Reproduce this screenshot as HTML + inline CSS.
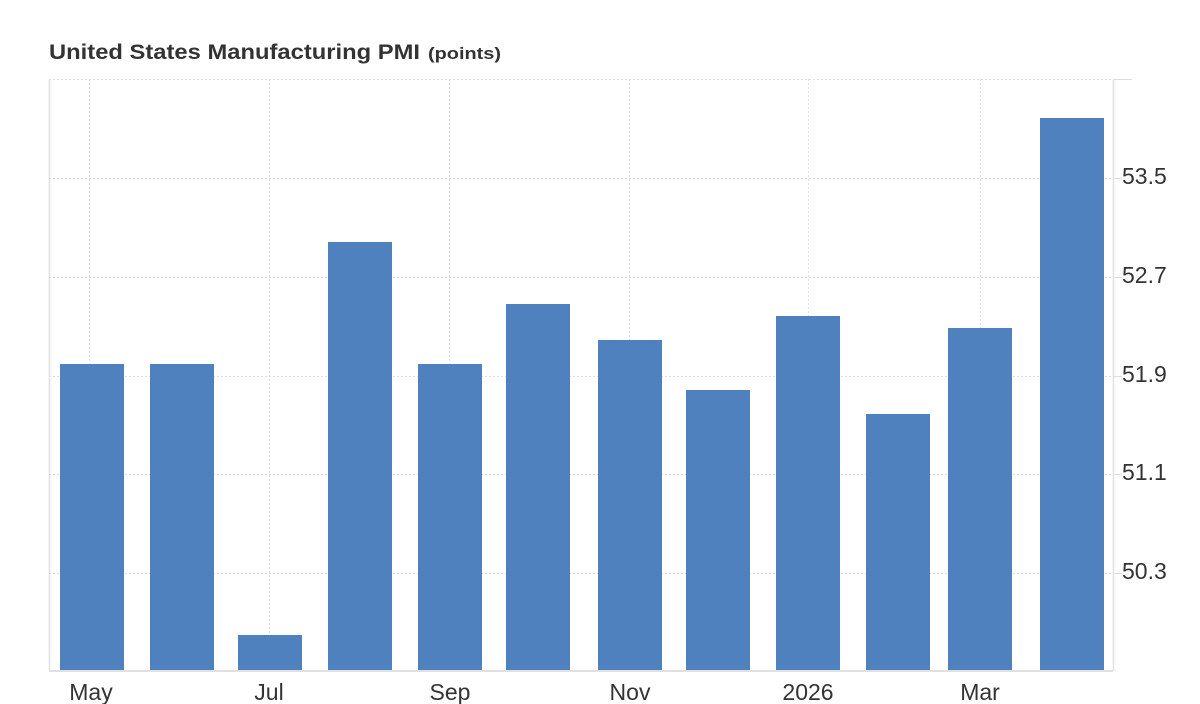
<!DOCTYPE html>
<html><head><style>
body{margin:0;background:#fff;}
svg{display:block;font-family:"Liberation Sans",Arial,sans-serif;}
</style></head><body>
<svg width="1200" height="704" viewBox="0 0 1200 704">
<text x="49" y="59" font-size="21" font-weight="bold" fill="#333" textLength="371" lengthAdjust="spacingAndGlyphs">United States Manufacturing PMI</text>
<text x="428" y="59" font-size="17" font-weight="bold" fill="#333" textLength="73" lengthAdjust="spacingAndGlyphs">(points)</text>
<g stroke="#ddd" stroke-width="1" stroke-dasharray="2,2">
<line x1="49" y1="79.5" x2="1113" y2="79.5"/>
<line x1="49" y1="178.5" x2="1113" y2="178.5"/>
<line x1="49" y1="277.5" x2="1113" y2="277.5"/>
<line x1="49" y1="376.5" x2="1113" y2="376.5"/>
<line x1="49" y1="474.5" x2="1113" y2="474.5"/>
<line x1="49" y1="573.5" x2="1113" y2="573.5"/>
<line x1="89.5" y1="79" x2="89.5" y2="670"/>
<line x1="269.5" y1="79" x2="269.5" y2="670"/>
<line x1="449.5" y1="79" x2="449.5" y2="670"/>
<line x1="629.5" y1="79" x2="629.5" y2="670"/>
<line x1="808.5" y1="79" x2="808.5" y2="670"/>
<line x1="980.5" y1="79" x2="980.5" y2="670"/>
</g>
<g stroke="#ddd" stroke-width="1">
<line x1="1113" y1="79.5" x2="1132" y2="79.5"/>
<line x1="1113" y1="178.5" x2="1122" y2="178.5"/>
<line x1="1113" y1="277.5" x2="1122" y2="277.5"/>
<line x1="1113" y1="376.5" x2="1122" y2="376.5"/>
<line x1="1113" y1="474.5" x2="1122" y2="474.5"/>
<line x1="1113" y1="573.5" x2="1122" y2="573.5"/>
</g>
<line x1="49.5" y1="79" x2="49.5" y2="671" stroke="#e0e0e0" stroke-width="1.5"/>
<line x1="1113.5" y1="79" x2="1113.5" y2="671" stroke="#e0e0e0" stroke-width="1.5"/>
<line x1="49" y1="671" x2="1113" y2="671" stroke="#e0e0e0" stroke-width="2"/>
<g fill="#4e81bd">
<rect x="60" y="364" width="64" height="306"/>
<rect x="150" y="364" width="64" height="306"/>
<rect x="238" y="635" width="64" height="35"/>
<rect x="328" y="242" width="64" height="428"/>
<rect x="418" y="364" width="64" height="306"/>
<rect x="506" y="304" width="64" height="366"/>
<rect x="598" y="340" width="64" height="330"/>
<rect x="686" y="390" width="64" height="280"/>
<rect x="776" y="316" width="64" height="354"/>
<rect x="866" y="414" width="64" height="256"/>
<rect x="948" y="328" width="64" height="342"/>
<rect x="1040" y="118" width="64" height="552"/>
</g>
<g font-size="23" fill="#333">
<text x="1122" y="184">53.5</text>
<text x="1122" y="283">52.7</text>
<text x="1122" y="382">51.9</text>
<text x="1122" y="480">51.1</text>
<text x="1122" y="579">50.3</text>
</g>
<g font-size="23" fill="#333" text-anchor="middle">
<text x="91" y="700">May</text>
<text x="269" y="700">Jul</text>
<text x="450" y="700">Sep</text>
<text x="630" y="700">Nov</text>
<text x="808" y="700">2026</text>
<text x="980" y="700">Mar</text>
</g>
</svg>
</body></html>
